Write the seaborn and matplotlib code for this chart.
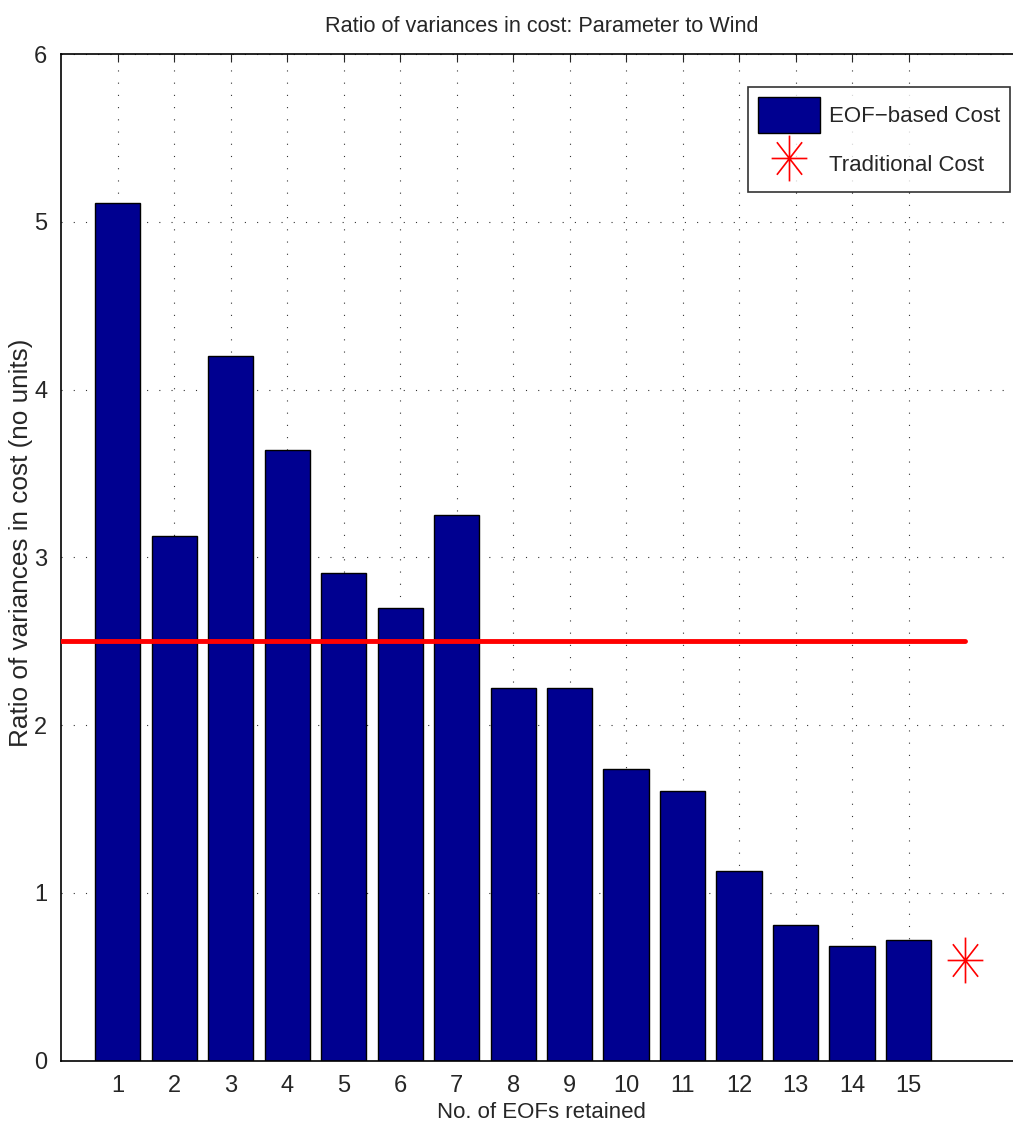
import matplotlib
matplotlib.use("Agg")
import matplotlib.pyplot as plt
from matplotlib.path import Path
import seaborn as sns
import pandas as pd

# Data
n_eofs = list(range(1, 16))
eof_ratio = [5.11, 3.13, 4.20, 3.64, 2.91, 2.70, 3.25, 2.22, 2.22, 1.74, 1.61, 1.13, 0.81, 0.685, 0.717]
trad_line_x = [0, 16]
trad_line_y = [2.5, 2.5]
trad_point_x = [16]
trad_point_y = [0.60]

sns.set_style("white")
plt.rcParams["font.family"] = ["Liberation Sans", "DejaVu Sans"]

df = pd.DataFrame({"eofs": n_eofs, "ratio": eof_ratio})

# MATLAB-style asterisk: plus + cross
star = Path(
    [(0, -1), (0, 1), (-0.78, 0), (0.78, 0),
     (-0.55, -0.71), (0.55, 0.71), (-0.55, 0.71), (0.55, -0.71)],
    [Path.MOVETO, Path.LINETO] * 4,
)

fig = plt.figure(figsize=(10.13, 11.34), dpi=100)
ax = fig.add_axes([0.0604, 0.0646, 0.948, 0.8877])

sns.barplot(data=df, x="eofs", y="ratio", native_scale=True, width=0.8,
            color="#000090", saturation=1, edgecolor="black", linewidth=1,
            ax=ax, label="EOF\u2212based Cost", zorder=2)
ax.plot(trad_line_x, trad_line_y, color="red", lw=3.5, zorder=3)
ax.plot(trad_point_x, trad_point_y, linestyle="none", marker=star, markersize=33,
        markerfacecolor="none", markeredgecolor="red", markeredgewidth=1.2,
        label="Traditional Cost", zorder=3)

ax.set_xlim(0, 17)
ax.set_ylim(0, 6)
ax.set_xticks(n_eofs)
ax.set_yticks(range(0, 7))
ax.tick_params(direction="in", length=6, labelsize=17, pad=10, top=True, right=False)
ax.grid(True, linestyle=(0, (1, 10)), color="black", linewidth=0.8, alpha=0.8)
ax.set_axisbelow(True)
for s in ax.spines.values():
    s.set_linewidth(1.2)
    s.set_color("black")
ax.spines["right"].set_visible(False)

ax.set_xlabel("No. of EOFs retained", fontsize=16, labelpad=4)
ax.set_ylabel("Ratio of variances in cost (no units)", fontsize=18.8)
ax.yaxis.set_label_coords(-0.0294, 0.515)
ax.set_title("Ratio of variances in cost: Parameter to Wind", fontsize=15.6, pad=16)

handles, labels = ax.get_legend_handles_labels()
order = [labels.index("EOF\u2212based Cost"), labels.index("Traditional Cost")]
leg = ax.legend([handles[i] for i in order], [labels[i] for i in order],
                loc="upper right", bbox_to_anchor=(0.988, 0.967), borderaxespad=0,
                fontsize=16, frameon=True, fancybox=False, edgecolor="black",
                borderpad=0.45, handlelength=2.8, handleheight=2.1,
                labelspacing=0.58, handletextpad=0.4)
leg.get_frame().set_linewidth(1.2)

fig.savefig("out.png", dpi=100)
